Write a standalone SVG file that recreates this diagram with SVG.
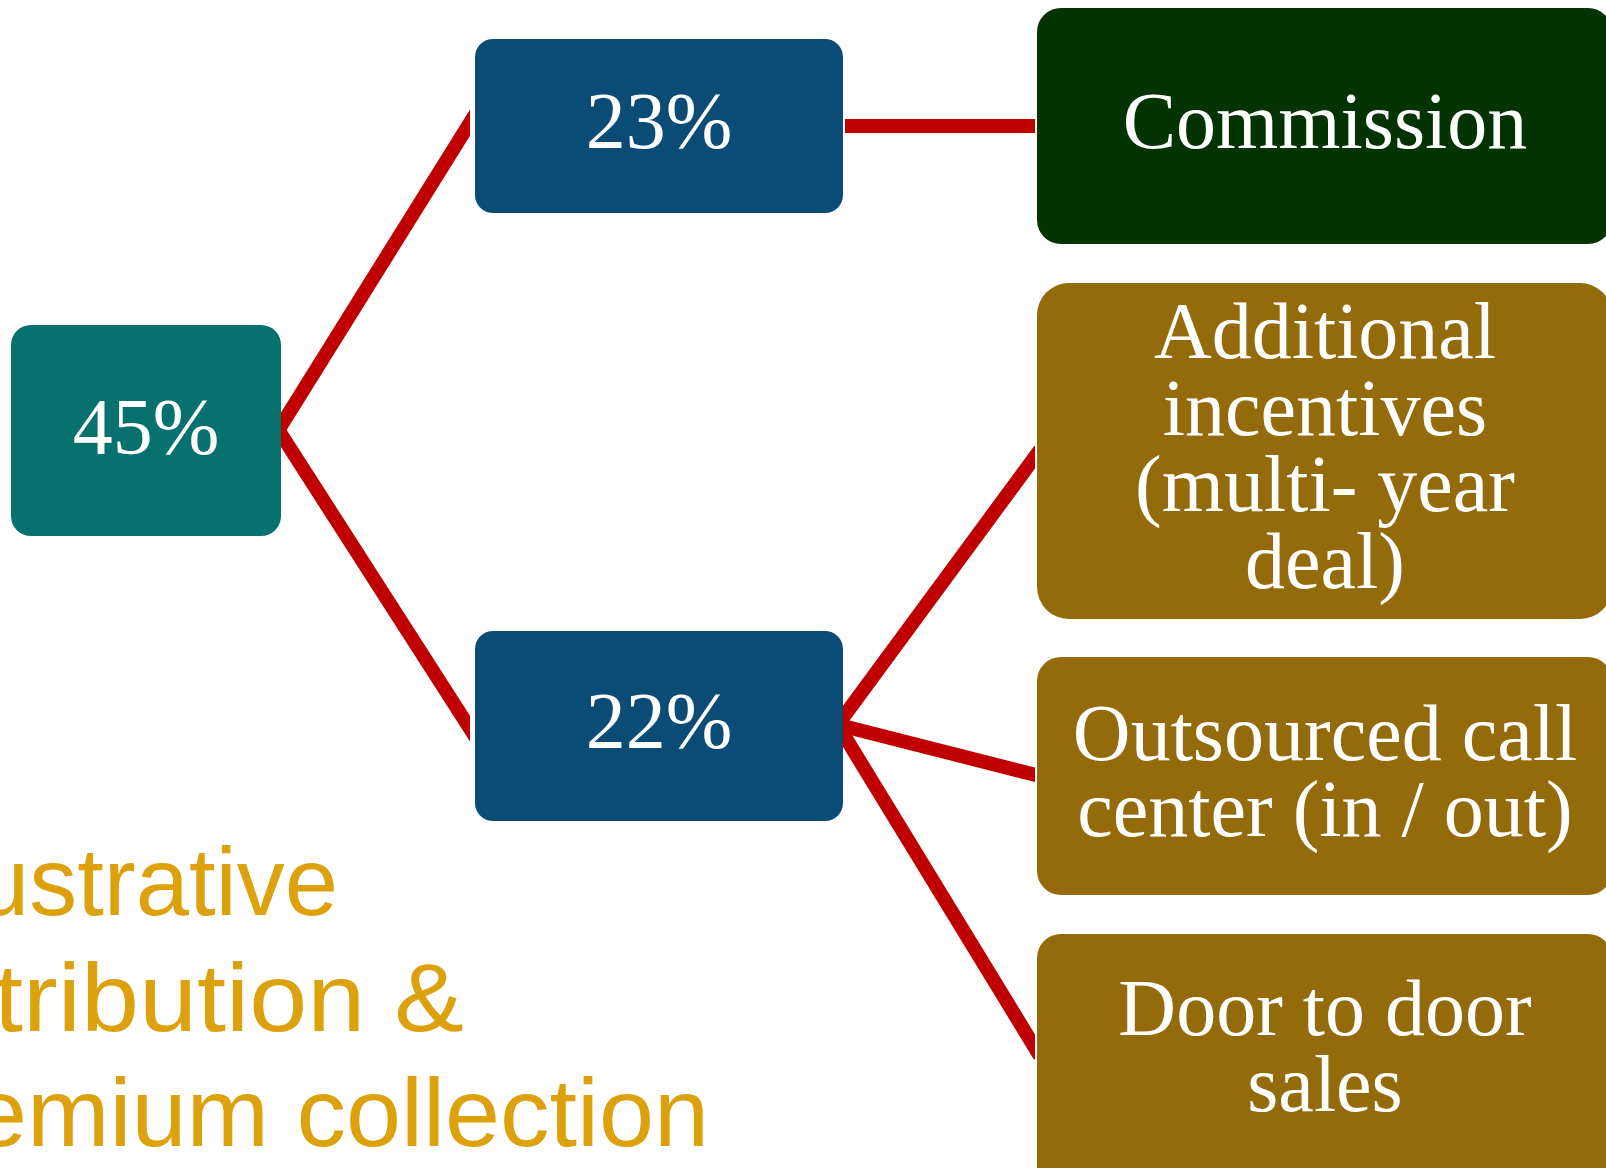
<svg xmlns="http://www.w3.org/2000/svg" width="1606" height="1168" viewBox="0 0 1606 1168">
  <style>
    .lbl { font-family: "Liberation Serif", "Times New Roman", serif; font-size: 80px; fill: #ffffff; text-anchor: middle; }
    .cap { font-family: "Liberation Sans", Arial, sans-serif; font-size: 96px; fill: #DCA10C; }
    .link { stroke: #C00000; stroke-width: 14; fill: none; stroke-linecap: butt; }
  </style>
  <defs>
    <clipPath id="clipMid"><rect x="0" y="0" width="470" height="1168"/></clipPath>
    <clipPath id="clipRight"><rect x="0" y="0" width="1035" height="1168"/></clipPath>
  </defs>
  <rect width="1606" height="1168" fill="#ffffff"/>

  <!-- caption, partly running off the left edge -->
  <g id="caption">
    <text class="cap" x="-24" y="915" textLength="362" lengthAdjust="spacingAndGlyphs">ustrative</text>
    <text class="cap" x="-6" y="1031" textLength="470" lengthAdjust="spacingAndGlyphs">tribution &amp;</text>
    <text class="cap" x="-28" y="1146" textLength="737" lengthAdjust="spacingAndGlyphs">emium collection</text>
  </g>

  <!-- connectors -->
  <g id="connectors">
    <g clip-path="url(#clipMid)">
      <line class="link" x1="279" y1="429" x2="476" y2="113"/>
      <line class="link" x1="279" y1="431" x2="476" y2="738"/>
    </g>
    <line class="link" x1="845" y1="126" x2="1035" y2="126"/>
    <g clip-path="url(#clipRight)">
      <line class="link" x1="839" y1="723" x2="1040" y2="450"/>
      <line class="link" x1="839" y1="725" x2="1040" y2="776"/>
      <line class="link" x1="839" y1="727" x2="1040" y2="1056"/>
    </g>
  </g>

  <g id="node-45">
    <rect x="11" y="325" width="270" height="211" rx="20" fill="#07716E"/>
    <text class="lbl" x="146" y="454">45%</text>
  </g>
  <g id="node-23">
    <rect x="475" y="39" width="368" height="174" rx="18" fill="#0A4C75"/>
    <text class="lbl" x="659" y="148">23%</text>
  </g>
  <g id="node-22">
    <rect x="475" y="631" width="368" height="190" rx="18" fill="#0A4C75"/>
    <text class="lbl" x="659" y="748">22%</text>
  </g>
  <g id="node-commission">
    <rect x="1037" y="8" width="575" height="236" rx="24" fill="#033300"/>
    <text class="lbl" x="1325" y="148">Commission</text>
  </g>
  <g id="node-incentives">
    <rect x="1037" y="283" width="575" height="336" rx="32" fill="#936B0A"/>
    <text class="lbl" x="1325" y="358">Additional</text>
    <text class="lbl" x="1325" y="435">incentives</text>
    <text class="lbl" x="1325" y="511">(multi- year</text>
    <text class="lbl" x="1325" y="588">deal)</text>
  </g>
  <g id="node-callcenter">
    <rect x="1037" y="657" width="575" height="238" rx="24" fill="#936B0A"/>
    <text class="lbl" x="1325" y="760">Outsourced call</text>
    <text class="lbl" x="1325" y="836">center (in / out)</text>
  </g>
  <g id="node-door">
    <rect x="1037" y="934" width="575" height="260" rx="24" fill="#936B0A"/>
    <text class="lbl" x="1325" y="1035">Door to door</text>
    <text class="lbl" x="1325" y="1111">sales</text>
  </g>
</svg>
